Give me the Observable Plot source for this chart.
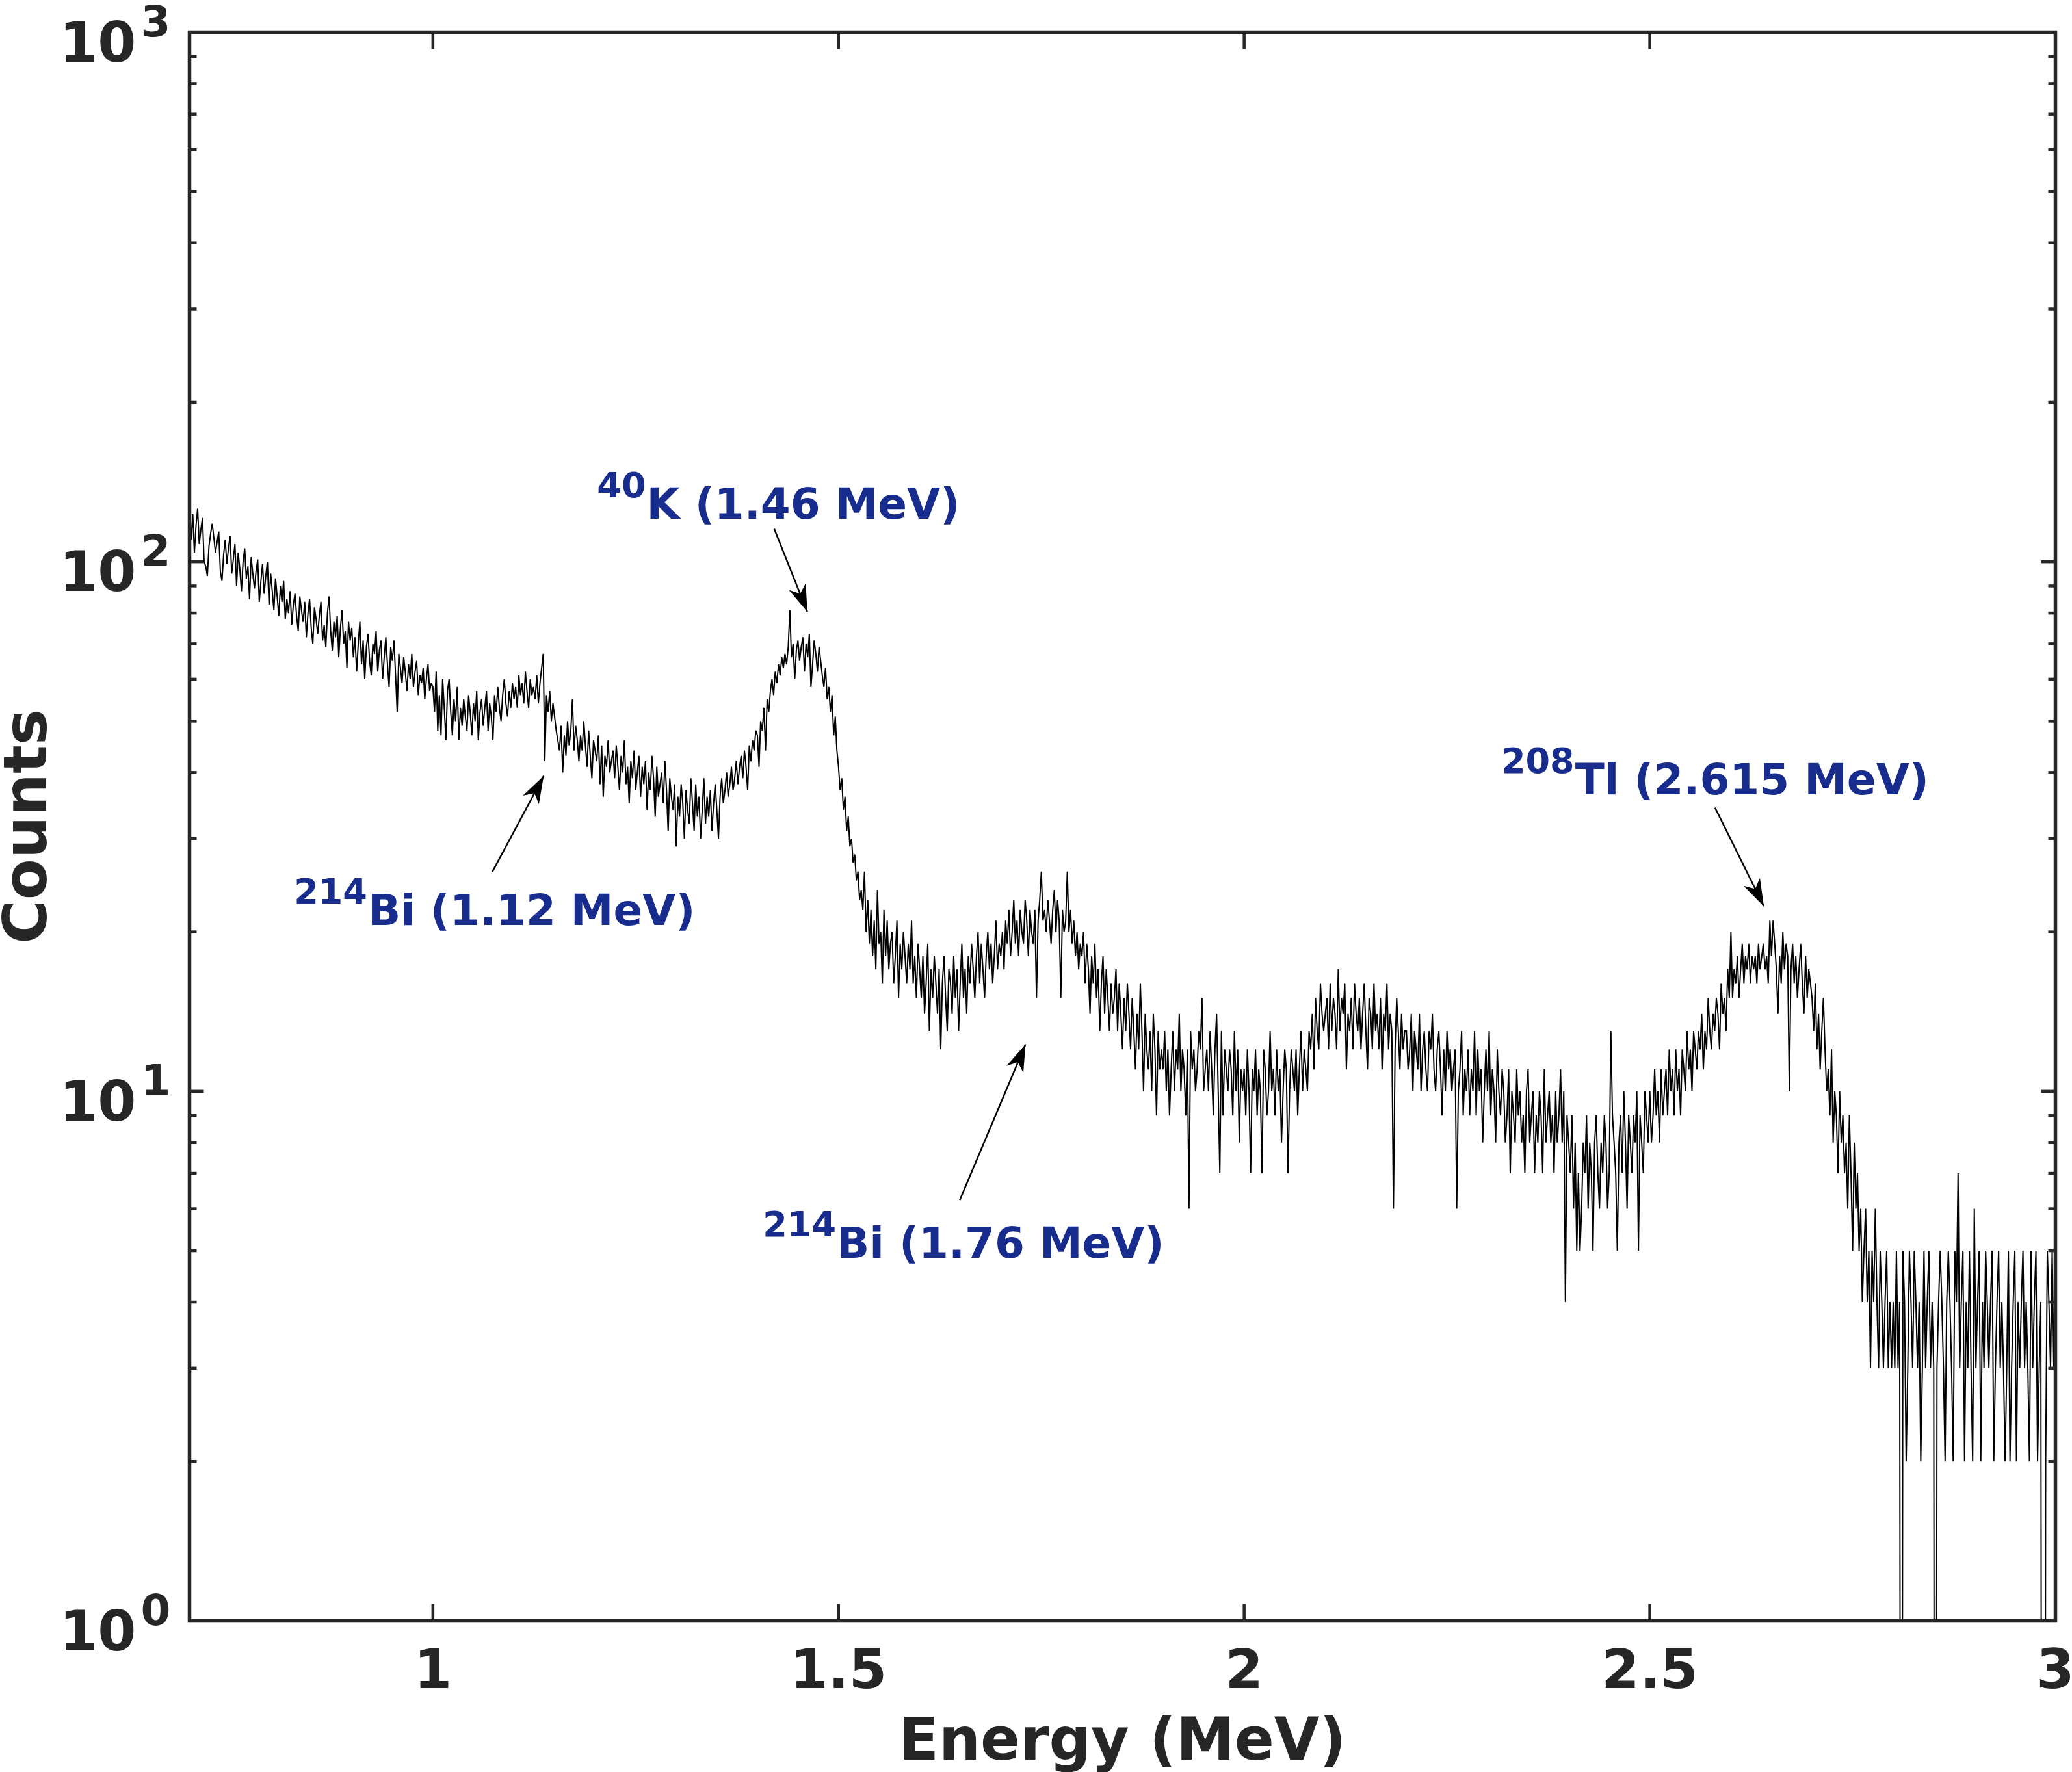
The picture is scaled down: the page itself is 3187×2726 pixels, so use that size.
<!DOCTYPE html>
<html><head><meta charset="utf-8">
<script src="https://cdn.jsdelivr.net/npm/d3@7"></script>
<script src="https://cdn.jsdelivr.net/npm/@observablehq/plot@0.6"></script>
<style>html,body{margin:0;padding:0;background:#fff;overflow:hidden}</style>
</head><body><div id="chart"></div>
<script>
// ---- Spectrum: counts per 2 keV channel, starting at 0.700 MeV ----
const energyStart = 0.7;
const channelWidth = 0.002;
const seg070 = [130,110,123,104,117,126,108,115,121,100, 98,94,107,113,118,111,104,109,114,96, 92,103,110,99,106,112,95,101,108,90, 104,97,88,100,106,93,98,85,102,95, 89,96,101,84,92,99,87,94,100,83];
const seg080 = [95,88,81,93,86,79,90,84,92,78, 85,80,88,76,83,87,79,74,86,81, 77,84,72,80,85,75,70,82,78,73, 79,84,71,76,69,80,86,74,68,77, 72,79,66,75,81,70,74,63,77,71];
const seg090 = [75,66,72,62,70,77,64,71,60,69, 73,65,61,70,67,74,62,68,71,60, 66,72,64,58,69,65,71,61,52,67, 63,59,66,62,57,64,60,67,58,62, 65,56,61,59,63,55,60,64,57,59];
const seg100 = [58,52,62,48,56,47,60,53,46,57, 60,52,47,55,50,58,46,53,49,55, 51,48,56,52,47,54,50,57,46,52, 55,49,53,57,48,54,51,46,56,52, 58,53,50,56,60,54,51,57,53,59];
const seg110 = [55,58,53,61,56,59,54,62,57,53, 60,56,58,55,61,54,59,63,67,42, 56,52,57,50,54,51,48,46,44,49, 40,47,43,50,45,48,55,44,49,46, 42,47,44,50,45,41,48,43,39,46];
const seg120 = [44,42,47,38,45,36,43,41,46,40, 42,44,39,45,41,37,43,40,46,38, 41,35,42,39,44,37,40,43,36,41, 38,42,34,40,37,43,39,33,41,36, 38,40,35,42,37,31,39,36,34,38];
const seg130 = [29,36,33,38,35,30,37,34,32,39, 35,31,38,33,36,30,34,39,32,36, 33,37,31,35,38,34,30,36,39,35, 37,40,36,38,41,37,39,42,38,41, 43,39,44,41,37,45,42,46,44,48];
const seg140 = [47,41,50,48,53,44,55,52,57,60, 56,62,59,64,61,66,63,67,64,69, 81,66,70,60,68,71,65,69,72,62, 70,66,73,58,64,71,67,62,69,65, 61,58,63,55,58,52,56,47,51,44];
const seg150 = [41,37,39,34,36,31,33,29,30,27, 28,25,26,23,24,22,26,20,23,19, 22,18,21,17,24,19,20,16,22,18, 21,17,19,20,16,18,21,15,19,17, 20,18,16,19,17,21,16,18,15,19];
const seg160 = [17,15,18,14,16,19,13,17,15,18, 16,14,17,12,16,18,15,13,17,16, 14,18,15,17,13,16,19,15,17,14, 18,16,19,17,15,18,20,16,19,17, 15,18,20,17,19,16,18,21,17,19];
const seg170 = [18,20,17,21,19,22,18,20,23,19, 21,18,22,20,19,23,21,18,22,20, 19,22,15,21,23,26,21,22,20,23, 21,19,22,24,20,23,21,15,22,20, 21,26,20,22,19,21,18,20,17,19];
const seg180 = [18,20,16,19,17,14,18,16,19,15, 17,13,16,18,14,17,15,13,16,14, 15,17,13,16,14,12,15,13,16,14, 12,15,13,11,14,12,16,13,10,14, 12,11,13,10,14,12,9,13,11,12];
const seg190 = [11,13,10,12,9,11,13,10,12,11, 14,10,12,11,9,12,6,13,11,12, 10,11,13,12,15,10,11,12,10,13, 11,9,12,14,10,7,13,9,12,11, 10,12,11,9,13,10,12,8,11,10];
const seg200 = [11,9,12,10,7,11,10,12,9,11, 10,7,12,11,9,10,13,10,11,9, 12,10,11,8,10,12,11,7,10,12, 11,10,12,9,11,13,10,12,11,10, 13,12,14,11,15,13,12,16,14,13];
const seg210 = [14,15,12,16,13,15,14,12,17,13, 15,14,16,11,14,13,15,12,16,14, 13,15,12,14,16,13,11,15,14,12, 16,13,14,12,15,11,14,13,16,12, 14,13,6,12,15,13,11,14,12,13];
const seg220 = [13,11,12,14,10,13,12,11,14,10, 12,13,11,10,13,12,14,11,10,12, 13,11,9,12,10,13,11,12,10,11, 12,6,10,11,13,9,11,10,12,9, 11,10,13,9,12,10,11,8,10,12];
const seg230 = [10,13,9,11,10,8,12,10,9,11, 10,8,9,11,7,10,9,8,11,9, 10,8,9,7,10,11,8,9,10,7, 9,8,10,9,7,11,8,9,10,8, 9,7,10,8,9,11,8,10,4,9];
const seg240 = [8,7,9,6,8,5,7,5,6,8, 7,9,6,8,7,5,8,9,7,6, 8,7,9,8,6,7,13,9,8,7, 5,8,9,7,10,8,6,9,8,7, 9,8,10,5,9,8,7,10,9,8];
const seg250 = [10,8,9,11,9,10,8,11,9,10, 11,9,12,10,11,9,12,10,11,9, 12,11,10,13,11,12,10,13,12,11, 13,12,14,11,13,12,15,13,12,14, 13,15,14,12,16,14,15,13,17,15];
const seg260 = [20,15,17,16,18,15,17,19,16,18, 17,19,16,18,17,18,16,19,17,18, 19,17,18,16,21,18,21,19,17,14, 18,16,20,17,19,18,10,17,19,16, 18,15,17,19,16,14,18,15,17,16];
const seg270 = [15,13,16,12,14,11,13,15,12,10, 11,9,12,8,10,9,7,10,8,9, 7,8,6,9,7,5,8,6,7,5, 6,4,5,6,4,5,3,5,4,6, 4,3,5,4,3,4,5,3,4,3];
const seg280 = [4,3,5,3,4,0,5,4,2,3, 5,4,3,5,4,3,4,2,3,5, 3,4,5,3,4,3,0,3,4,5, 4,3,2,4,5,4,3,2,5,4, 7,3,4,5,2,4,3,5,3,2];
const seg290 = [6,3,4,5,2,4,3,5,4,3, 4,5,2,3,4,5,3,4,3,2, 3,5,2,3,4,5,2,4,3,4, 5,3,4,3,2,5,3,4,5,2, 3,4,0,0,2,5,4,3,5,3,4];

// ---- Axes ----
const xDomain = [0.7, 3];
const yDomain = [1, 1000];
const xTicks = [1, 1.5, 2, 2.5, 3];
const xTickLabels = ["1", "1.5", "2", "2.5", "3"];
const yDecades = [0, 1, 2, 3];
const yMajorTicks = [1, 10, 100, 1000];
const yMinorTicks = [2,3,4,5,6,7,8,9, 20,30,40,50,60,70,80,90, 200,300,400,500,600,700,800,900];

// ---- Annotations ----
const labelMass = ["40", "214", "214", "208"];
const labelName = ["K (1.46 MeV)", "Bi (1.12 MeV)", "Bi (1.76 MeV)", "Tl (2.615 MeV)"];
const labelX = [1.2634, 0.9199, 1.4978, 2.4079];
const labelY = [120.4, 20.58, 4.842, 36.33];
const arrowFromX = [1.4207, 1.0732, 1.6494, 2.5804];
const arrowFromY = [115.4, 25.95, 6.23, 34.33];
const arrowToX = [1.4616, 1.1366, 1.7305, 2.6406];
const arrowToY = [80.4, 39.4, 12.27, 22.35];

// ---- Build ----
const counts = [].concat(seg070, seg080, seg090, seg100, seg110, seg120, seg130, seg140, seg150, seg160,
  seg170, seg180, seg190, seg200, seg210, seg220, seg230, seg240, seg250, seg260, seg270, seg280, seg290);
const spectrum = counts.map((c, i) => ({energy: energyStart + i * channelWidth, counts: c}));

const W = 3187, H = 2726, mL = 291, mR = 26, mT = 49, mB = 233;
const sx = Plot.scale({x: {domain: xDomain, range: [mL, W - mR]}});
const sy = Plot.scale({y: {type: "log", domain: yDomain, range: [H - mB, mT]}});

const annotations = labelName.map((name, i) => {
  const dxp = sx.apply(arrowToX[i]) - sx.apply(arrowFromX[i]);
  const dyp = sy.apply(arrowToY[i]) - sy.apply(arrowFromY[i]);
  return {
    name, mass: labelMass[i], lx: labelX[i], ly: labelY[i],
    x1: arrowFromX[i], y1: arrowFromY[i], x2: arrowToX[i], y2: arrowToY[i],
    angle: Math.atan2(dxp, -dyp) * 180 / Math.PI
  };
});

const axisColor = "#262626";
const blue = "#172c8c";
const arrowHead = {draw(ctx) { ctx.moveTo(0, 0); ctx.lineTo(14, 42); ctx.lineTo(0, 30); ctx.lineTo(-14, 42); ctx.closePath(); }};
const tickSym = (dx, dy) => ({draw(ctx) { ctx.moveTo(0, 0); ctx.lineTo(dx, dy); }});

const tickStyle = {stroke: axisColor, strokeWidth: 4.5, fill: "none", strokeLinecap: "butt"};

const chart = Plot.plot({
  width: W, height: H,
  marginLeft: mL, marginRight: mR, marginTop: mT, marginBottom: mB,
  style: {fontFamily: "'DejaVu Sans', sans-serif", background: "#fff", overflow: "visible"},
  x: {domain: xDomain, axis: null},
  y: {type: "log", domain: yDomain, axis: null},
  marks: [
    Plot.line(spectrum, {x: "energy", y: d => d.counts > 0 ? d.counts : 0.01, stroke: "#000", strokeWidth: 2, clip: true, strokeLinejoin: "miter", strokeMiterlimit: 2}),
    // ticks (inward, mirrored)
    Plot.dot(xTicks, {x: d => d, frameAnchor: "bottom", symbol: tickSym(0, -26), ...tickStyle}),
    Plot.dot(xTicks, {x: d => d, frameAnchor: "top", symbol: tickSym(0, 26), ...tickStyle}),
    Plot.dot(yMajorTicks, {y: d => d, frameAnchor: "left", symbol: tickSym(22, 0), ...tickStyle}),
    Plot.dot(yMajorTicks, {y: d => d, frameAnchor: "right", symbol: tickSym(-22, 0), ...tickStyle}),
    Plot.dot(yMinorTicks, {y: d => d, frameAnchor: "left", symbol: tickSym(11, 0), ...tickStyle}),
    Plot.dot(yMinorTicks, {y: d => d, frameAnchor: "right", symbol: tickSym(-11, 0), ...tickStyle}),
    Plot.frame({stroke: axisColor, strokeWidth: 5.5}),
    // tick labels
    Plot.text(xTicks, {x: d => d, frameAnchor: "bottom", text: (d, i) => xTickLabels[i], lineAnchor: "bottom", dy: 103,
      fontSize: 84, fontWeight: "bold", fill: axisColor}),
    Plot.text(yDecades, {y: d => 10 ** d, frameAnchor: "left", text: () => "10", textAnchor: "end", lineAnchor: "bottom",
      dx: -82, dy: 45, fontSize: 85, fontWeight: "bold", fill: axisColor}),
    Plot.text(yDecades, {y: d => 10 ** d, frameAnchor: "left", text: d => String(d), textAnchor: "end", lineAnchor: "bottom",
      dx: -29, dy: 6, fontSize: 66, fontWeight: "bold", fill: axisColor}),
    // axis titles
    Plot.text(["Energy (MeV)"], {frameAnchor: "bottom", text: d => d, textAnchor: "middle", lineAnchor: "bottom", dy: 213,
      fontSize: 90, fontWeight: "bold", fill: axisColor}),
    Plot.text(["Counts"], {frameAnchor: "left", text: d => d, rotate: -90, dx: -250, textAnchor: "middle", lineAnchor: "middle",
      fontSize: 92, fontWeight: "bold", fill: axisColor}),
    // annotations
    Plot.link(annotations, {x1: "x1", y1: "y1", x2: "x2", y2: "y2", stroke: "#000", strokeWidth: 2.5}),
    Plot.dot(annotations, {x: "x2", y: "y2", symbol: arrowHead, rotate: "angle", fill: "#000", stroke: "none"}),
    Plot.text(annotations, {x: "lx", y: "ly", text: "name", textAnchor: "start", lineAnchor: "bottom",
      fontSize: 66, fontWeight: "bold", fill: blue}),
    Plot.text(annotations, {x: "lx", y: "ly", text: "mass", textAnchor: "end", lineAnchor: "bottom", dy: -33, dx: -1,
      fontSize: 54, fontWeight: "bold", fill: blue})
  ]
});
document.getElementById("chart").appendChild(chart);
</script>
</body></html>
